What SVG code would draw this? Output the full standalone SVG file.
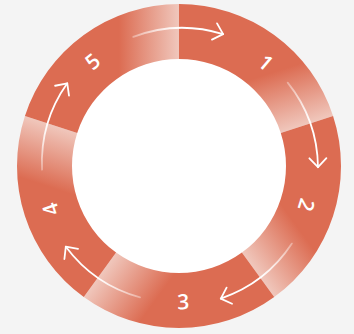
<svg xmlns="http://www.w3.org/2000/svg" width="354" height="334" viewBox="0 0 354 334">
  <defs>
    <linearGradient id="segGrad" gradientUnits="userSpaceOnUse" x1="-60" y1="0" x2="0" y2="0">
      <stop offset="0" stop-color="#dc6c52"/>
      <stop offset="1" stop-color="#f0c7bc"/>
    </linearGradient>
    <linearGradient id="arrGrad" gradientUnits="userSpaceOnUse" x1="-46" y1="0" x2="0" y2="0">
      <stop offset="0" stop-color="#ffffff" stop-opacity="0.35"/>
      <stop offset="1" stop-color="#ffffff" stop-opacity="1"/>
    </linearGradient>
    <marker id="head" markerUnits="userSpaceOnUse" markerWidth="24" markerHeight="24" refX="0" refY="0" orient="auto" overflow="visible">
      <path d="M-9,-8.5 L0,0 L-9,8.5" fill="none" stroke="#ffffff" stroke-width="1.8" stroke-linecap="round" stroke-linejoin="round"/>
    </marker>
    <path id="seg" d="M-154.07,-50.06 A162,162 0 0 1 0,-162 L0,-107 A107,107 0 0 0 -101.76,-33.07 Z" fill="url(#segGrad)"/>
    <path id="arr" d="M-45.73,-129.14 A138,138 0 0 1 44.11,-131.82" fill="none" stroke="url(#arrGrad)" stroke-width="1.8" stroke-linecap="round" marker-end="url(#head)"/>
  </defs>
  <style>
    .lbl { font-family: "Open Sans", "Liberation Sans", Arial, sans-serif; font-size: 21px; font-weight: 600; fill: #ffffff; text-anchor: middle; }
  </style>
  <rect x="0" y="0" width="354" height="334" fill="#f4f4f4"/>
  <circle cx="179" cy="166" r="108" fill="#ffffff"/>

  <g id="node1">
    <use href="#seg" transform="translate(179 166) rotate(72)"/>
    <text class="lbl" transform="translate(265.8 62.6) rotate(40)" y="7.5">1</text>
  </g>
  <g id="node2">
    <use href="#seg" transform="translate(179 166) rotate(144)"/>
    <text class="lbl" transform="translate(306.5 205) rotate(107)" y="7.5">2</text>
  </g>
  <g id="node3">
    <use href="#seg" transform="translate(179 166) rotate(216)"/>
    <text class="lbl" transform="translate(183.3 301.7) rotate(-2)" y="7.5">3</text>
  </g>
  <g id="node4">
    <use href="#seg" transform="translate(179 166) rotate(288)"/>
    <text class="lbl" transform="translate(50.7 209.3) rotate(-108.5)" y="7.5">4</text>
  </g>
  <g id="node5">
    <use href="#seg" transform="translate(179 166)"/>
    <text class="lbl" transform="translate(92.7 61.3) rotate(-39.5)" y="7.5">5</text>
  </g>

  <g id="connectors">
    <use href="#arr" transform="translate(179 166)"/>
    <use href="#arr" transform="translate(179 166) rotate(72)"/>
    <use href="#arr" transform="translate(179 166) rotate(144)"/>
    <use href="#arr" transform="translate(179 166) rotate(216)"/>
    <use href="#arr" transform="translate(179 166) rotate(288)"/>
  </g>
</svg>
